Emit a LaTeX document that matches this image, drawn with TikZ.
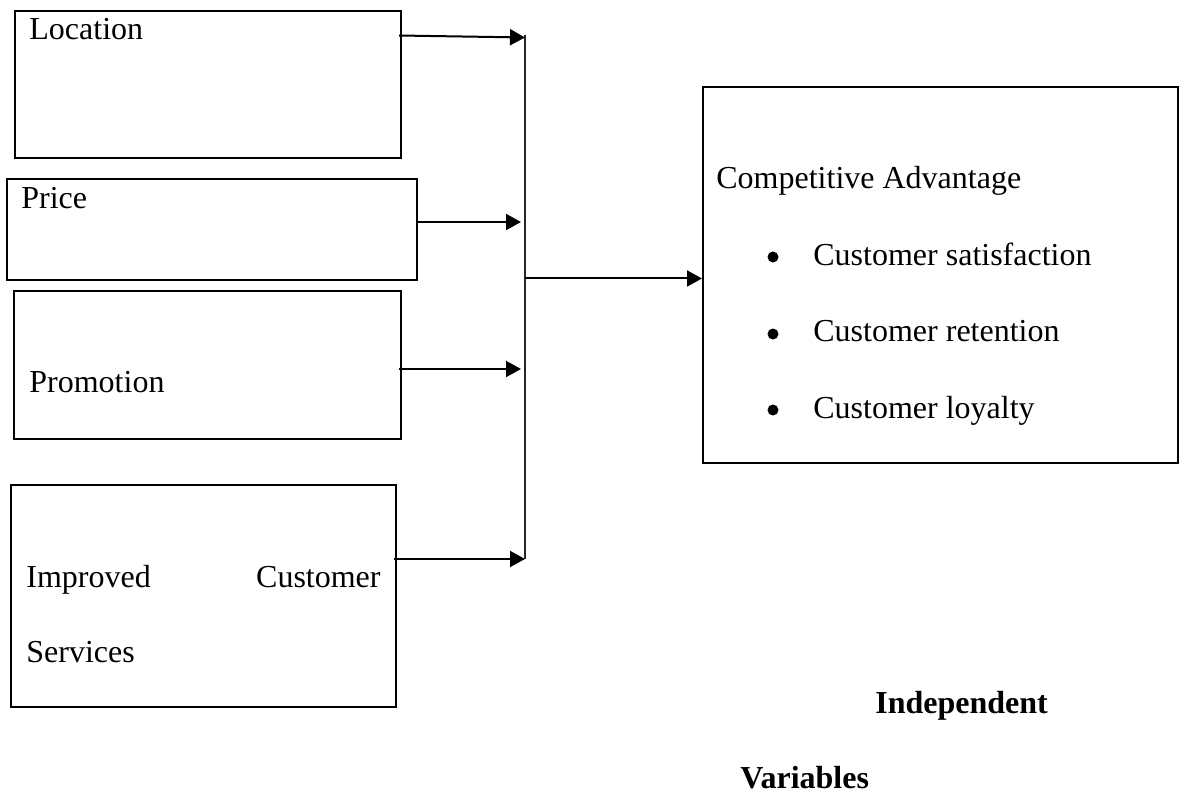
\documentclass[tikz,border=0pt]{standalone}
\usepackage{fontspec}
\setmainfont{Liberation Serif}
\usetikzlibrary{arrows.meta,fit}
\begin{document}
\begin{tikzpicture}[x=0.5pt,y=-0.5pt,
  box/.style={draw, line width=1pt, inner sep=0pt},
  lbl/.style={anchor=base west, inner sep=0pt, font=\fontsize{16}{19}\selectfont},
  lblr/.style={anchor=base east, inner sep=0pt, font=\fontsize{16}{19}\selectfont},
  blbl/.style={anchor=base west, inner sep=0pt, font=\fontsize{16}{19}\selectfont\bfseries},
  bul/.style={circle, fill=black, inner sep=0pt, minimum size=5.5pt},
  arr/.style={line width=1pt, -{Triangle[length=7.5pt,width=8pt]}},
  busline/.style={line width=0.7pt, black!85}]
\useasboundingbox (0,0) rectangle (1185,792);

% boxes
\node[box, fit={(15,11) (401,158)}] (loc) {};
\node[box, fit={(7,179) (417,280)}] (price) {};
\node[box, fit={(14,291) (401,439)}] (promo) {};
\node[box, fit={(11,485) (396,707)}] (serv) {};
\node[box, fit={(703,87) (1178,463)}] (cadv) {};

% labels
\node[lbl] (tloc) at (29,40) {Location};
\node[lbl] (tprice) at (21,209) {Price};
\node[lbl] (tpromo) at (29,393) {Promotion};
\node[lbl] (timp) at (26,587) {Improved};
\node[lblr] (tcust) at (381,587) {Customer};
\node[lbl] (tserv) at (26,662) {Services};
\node[lbl] (tca) at (716,189) {Competitive Advantage};
\node[bul] (b1) at (773,257) {};
\node[bul] (b2) at (773,334) {};
\node[bul] (b3) at (773,410) {};
\node[lbl] (t1) at (813,265) {Customer satisfaction};
\node[lbl] (t2) at (813,342) {Customer retention};
\node[lbl] (t3) at (813,418) {Customer loyalty};
\node[blbl] (tind) at (875,713) {Independent};
\node[blbl] (tvar) at (740,788) {Variables};

% bus
\coordinate (bt) at (525,35);
\coordinate (bb) at (525,559);
\coordinate (jn) at (525,278.5);
\draw[busline] (bt) -- (bb);

% arrows
\draw[arr] ([xshift=-1.5pt]loc.east |- 0,35.5) -- (bt |- 0,37.5);
\draw[arr] (price.east |- 0,222) -- ([xshift=-2pt]bt |- 0,222);
\draw[arr] ([xshift=-1.5pt]promo.east |- 0,369) -- ([xshift=-2pt]bt |- 0,369);
\draw[arr] ([xshift=-1.5pt]serv.east |- 0,559) -- (bb);
\draw[arr] (jn) -- (cadv.west |- jn);
\end{tikzpicture}
\end{document}
